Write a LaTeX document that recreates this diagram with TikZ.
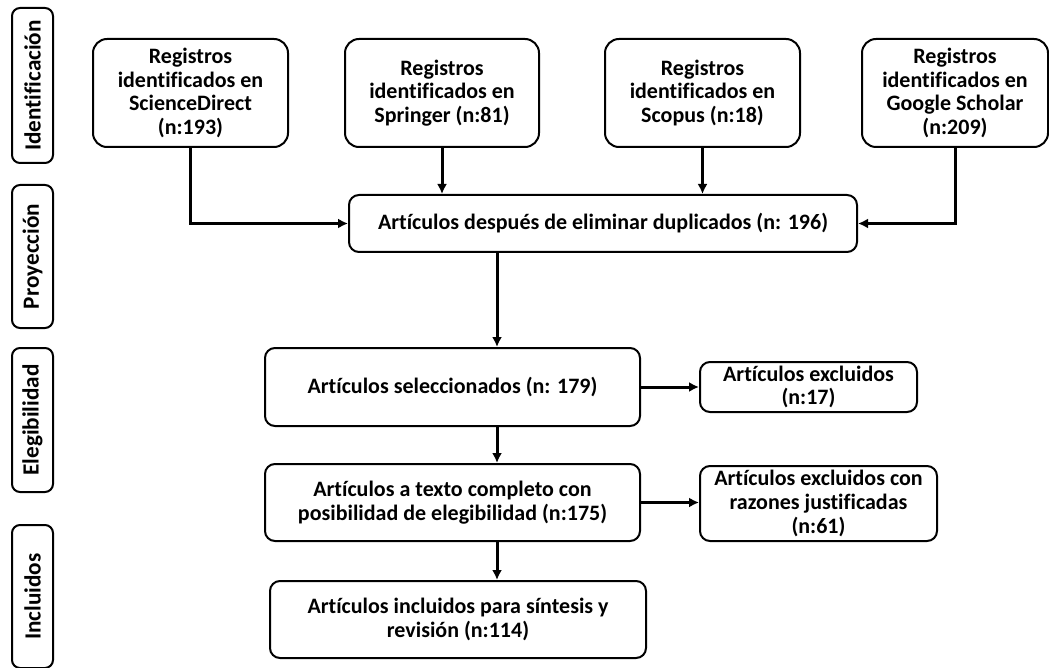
\documentclass[tikz,border=0pt]{standalone}
\usepackage{fontspec}
\setmainfont[Ligatures=NoCommon]{Carlito}
\usepackage{tikz}
\usetikzlibrary{positioning,arrows.meta,calc}
\tikzset{
  srcbox/.style={draw, line width=1pt, rounded corners=7pt, align=center,
    font=\bfseries\fontsize{11}{11.9}\selectfont, inner sep=2pt,
    minimum width=97pt, minimum height=54pt, fill=white},
  flowbox/.style={srcbox, rounded corners=5pt},
  stagebox/.style={draw, line width=1pt, rounded corners=4pt, rotate=90,
    font=\bfseries\fontsize{11.6}{12}\selectfont, minimum height=20.5pt, inner sep=1pt},
  flowarrow/.style={-{Latex[length=5pt,width=5pt]}, line width=1.5pt},
}

\begin{document}
\begin{tikzpicture}[x=0.5pt, y=-0.5pt]
  \useasboundingbox (0,0) rectangle (1049,668);
  % etapas
  \node[stagebox, minimum width=77.5pt] (s1) at (32.5,85.5) {Identificación};
  \node[stagebox, minimum width=71.5pt] (s2) at (32.5,256.5) {Proyección};
  \node[stagebox, minimum width=72pt] (s3) at (32.5,420) {Elegibilidad};
  \node[stagebox, minimum width=71.5pt] (s4) at (32.5,596.5) {Incluidos};
  % fuentes
  \node[srcbox, minimum width=97.5pt] (sd) at (190.5,93) {Registros\\identificados en\\ScienceDirect\\(n:193)};
  \node[srcbox] (sp) at (442,93) {Registros\\identificados en\\Springer (n:81)};
  \node[srcbox, minimum width=97.5pt] (sc) at (702.5,93) {Registros\\identificados en\\Scopus (n:18)};
  \node[srcbox, minimum width=93pt] (gs) at (955,93) {Registros\\identificados en\\Google Scholar\\(n:209)};
  \node[flowbox, minimum width=254pt, minimum height=28.5pt] (dup) at (603,223.5) {Artículos después de eliminar duplicados (n: 196)};
  \draw[flowarrow] (sd.south) |- (dup.west);
  \draw[flowarrow] (sp.south) -- (sp.south |- dup.north);
  \draw[flowarrow] (sc.south) -- (sc.south |- dup.north);
  \draw[flowarrow] (gs.south) |- (dup.east);
  % cribado
  \coordinate (col) at (497,0);
  \node[flowbox, minimum width=187.5pt, minimum height=39pt] (sel) at (452.5,387) {Artículos seleccionados (n: 179)};
  \node[flowbox, minimum width=108.5pt, minimum height=25pt, inner sep=0pt] (exa) at (808.5,387) {Artículos excluidos\\(n:17)};
  \node[flowbox, minimum width=187.5pt, minimum height=38.5pt] (txt) at (452.5,502.5) {Artículos a texto completo con\\posibilidad de elegibilidad (n:175)};
  \node[flowbox, minimum width=118.5pt, minimum height=37.5pt, inner sep=0pt] (exb) at (818.5,503.5) {Artículos excluidos con\\razones justificadas\\(n:61)};
  \node[flowbox, minimum width=188pt, minimum height=38.5pt] (inc) at (458,619.5) {Artículos incluidos para síntesis y\\revisión (n:114)};
  \draw[flowarrow] (dup.south -| col) -- (sel.north -| col);
  \draw[flowarrow] (sel.south -| col) -- (txt.north -| col);
  \draw[flowarrow] (txt.south -| col) -- (inc.north -| col);
  \draw[flowarrow] (sel.east) -- (exa.west);
  \draw[flowarrow] (txt.east) -- (txt.east -| exb.west);
\end{tikzpicture}
\end{document}
